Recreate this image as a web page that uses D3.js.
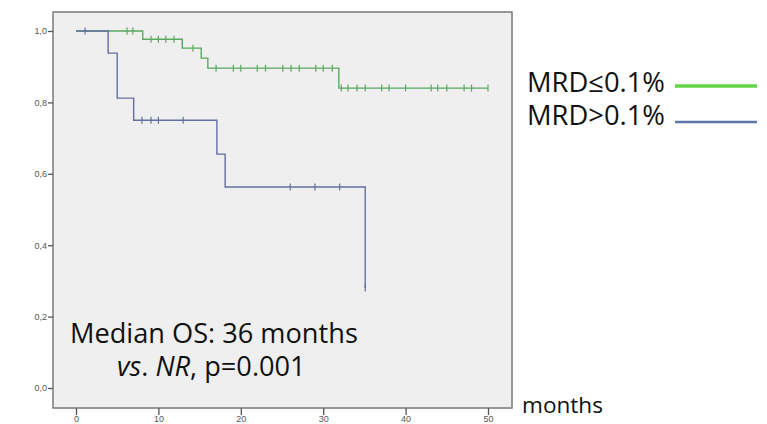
<!DOCTYPE html>
<html>
<head>
<meta charset="utf-8">
<script src="https://cdn.jsdelivr.net/npm/d3@7"></script>
<style>
    body { margin: 0; background: #fff; }
    text { font-family: "Open Sans", Lato, sans-serif; }
</style>
</head>
<body>
<div id="chart"></div>
<script>
// Kaplan-Meier curves
const lowEventTimes = [8.1, 12.9, 15.2, 16.0, 31.9];
const lowSurvival = [0.977, 0.952, 0.924, 0.896, 0.840];
const lowCensored = [6.2, 6.9, 9.1, 10.0, 10.9, 11.9, 14.2, 17.0, 19.1, 20.0, 22.0, 23.0,
    25.1, 26.1, 27.1, 29.1, 30.0, 31.1, 32.2, 33.0, 34.1, 35.1, 37.1, 38.0, 40.0, 43.1,
    43.9, 45.0, 47.1, 48.0, 50.0];

const highEventTimes = [3.9, 5.0, 7.0, 17.1, 18.1, 35.1];
const highSurvival = [0.938, 0.812, 0.75, 0.655, 0.563, 0.28];
const highCensored = [1.1, 8.0, 9.1, 10.0, 13.0, 26.0, 29.0, 32.0, 35.1];

const xTicks = [0, 10, 20, 30, 40, 50];
const yTicks = [0, 0.2, 0.4, 0.6, 0.8, 1.0];
const legendLabels = ["MRD\u22640.1%", "MRD>0.1%"];

const width = 767, height = 424;

let svg = d3.select("#chart")
    .append("svg")
    .attr("width", width)
    .attr("height", height);

// frame of the plot area
const frame = {left: 53, right: 512, top: 12, bottom: 408};

let x = d3.scaleLinear().domain([0, 50]).range([76, 488]);
let y = d3.scaleLinear().domain([0, 1]).range([388, 31]);

svg.append("rect")
    .attr("x", frame.left)
    .attr("y", frame.top)
    .attr("width", frame.right - frame.left)
    .attr("height", frame.bottom - frame.top)
    .style("fill", "#efefef")
    .style("stroke", "#7a7a7a")
    .style("stroke-width", 1.5);

// y axis on the left edge of the frame
let yAxis = svg.append("g")
    .attr("transform", `translate(${frame.left}, 0)`)
    .call(d3.axisLeft(y).tickValues(yTicks).tickSize(5).tickSizeOuter(0)
        .tickFormat(d => d3.format(".1f")(d).replace(".", ",")));
yAxis.select(".domain").remove();
yAxis.selectAll("line").style("stroke", "#555").style("stroke-width", 1.3);
yAxis.selectAll("text")
    .style("font-family", "'Liberation Sans', sans-serif")
    .style("font-size", "9px")
    .style("fill", "#555")
    .attr("x", -6);

// x axis under the frame
let xAxis = svg.append("g")
    .attr("transform", `translate(0, ${frame.bottom})`)
    .call(d3.axisBottom(x).tickValues(xTicks).tickSize(7).tickSizeOuter(0));
xAxis.select(".domain").remove();
xAxis.selectAll("line").style("stroke", "#555").style("stroke-width", 1.3);
xAxis.selectAll("text")
    .style("font-family", "'Liberation Sans', sans-serif")
    .style("font-size", "9px")
    .style("fill", "#555")
    .attr("y", 8);

// turn event times into step points
function stepPoints(times, surv, censored) {
    let pts = [[0, 1]];
    for (let i = 0; i < times.length; i++) {
        pts.push([times[i], surv[i]]);
    }
    const end = d3.max(censored.concat(times));
    pts.push([end, surv[surv.length - 1]]);
    return pts;
}

function survivalAt(t, times, surv) {
    let s = 1;
    for (let i = 0; i < times.length; i++) {
        if (times[i] <= t) s = surv[i];
    }
    return s;
}

let line = d3.line()
    .x(d => x(d[0]))
    .y(d => y(d[1]))
    .curve(d3.curveStepAfter);

const groups = [
    {times: lowEventTimes, surv: lowSurvival, cens: lowCensored, color: "#5aa860"},
    {times: highEventTimes, surv: highSurvival, cens: highCensored, color: "#6570a0"}
];

groups.forEach(function (g) {
    svg.append("path")
        .datum(stepPoints(g.times, g.surv, g.cens))
        .attr("d", line)
        .style("fill", "none")
        .style("stroke", g.color)
        .style("stroke-width", 1.4);

    svg.selectAll(null)
        .data(g.cens)
        .enter()
        .append("line")
        .attr("x1", d => x(d))
        .attr("x2", d => x(d))
        .attr("y1", d => y(survivalAt(d, g.times, g.surv)) - 3.5)
        .attr("y2", d => y(survivalAt(d, g.times, g.surv)) + 3.5)
        .style("stroke", g.color)
        .style("stroke-width", 1.2);
});

// scale a label's font so it spans the width seen in the picture
function fitWidth(sel, target) {
    const w = sel.node().getComputedTextLength();
    const fs = parseFloat(sel.style("font-size"));
    sel.style("font-size", (fs * target / w) + "px");
}

// annotation
let t1 = svg.append("text")
    .attr("x", 70)
    .attr("y", 343)
    .style("font-size", "22px")
    .style("fill", "#111")
    .text("Median OS: 36 months");
fitWidth(t1, 288);

let t2 = svg.append("text")
    .attr("x", 117)
    .attr("y", 376)
    .style("font-size", "22px")
    .style("fill", "#111");
t2.append("tspan").style("font-style", "italic").text("vs");
t2.append("tspan").text(". ");
t2.append("tspan").style("font-style", "italic").text("NR");
t2.append("tspan").text(", p=0.001");
t2.style("font-size", t1.style("font-size"));

// legend
const legendColors = ["#66d448", "#5b78a8"];
legendLabels.forEach(function (lab, i) {
    let lt = svg.append("text")
        .attr("x", 527)
        .attr("y", 92 + i * 33)
        .style("font-size", "22px")
        .style("fill", "#111")
        .text(lab);
    fitWidth(lt, 138);
    svg.append("line")
        .attr("x1", 675)
        .attr("x2", 757)
        .attr("y1", 86 + i * 36)
        .attr("y2", 86 + i * 36)
        .style("stroke", legendColors[i])
        .style("stroke-width", i === 0 ? 3.5 : 2.5);
});

let mt = svg.append("text")
    .attr("x", 522)
    .attr("y", 413)
    .style("font-size", "22px")
    .style("fill", "#111")
    .text("months");
fitWidth(mt, 81);
</script>
</body>
</html>
